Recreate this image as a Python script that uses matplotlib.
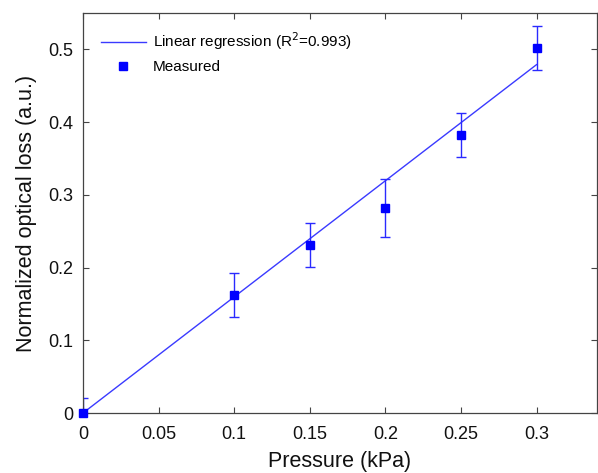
import matplotlib
matplotlib.use("Agg")
import matplotlib.pyplot as plt

plt.rcParams['font.family'] = ['Liberation Sans', 'DejaVu Sans']

pressure = [0.0, 0.1, 0.15, 0.2, 0.25, 0.3]
loss = [0.0, 0.162, 0.231, 0.282, 0.382, 0.502]
loss_err = [0.02, 0.03, 0.03, 0.04, 0.03, 0.03]
fit_x = [0.0, 0.3]
fit_y = [0.0, 0.479]
xticks = [0, 0.05, 0.1, 0.15, 0.2, 0.25, 0.3]
xticklabels = ['0', '0.05', '0.1', '0.15', '0.2', '0.25', '0.3']
yticks = [0, 0.1, 0.2, 0.3, 0.4, 0.5]
yticklabels = ['0', '0.1', '0.2', '0.3', '0.4', '0.5']

fig = plt.figure(figsize=(5.98, 4.73), dpi=100)
ax = fig.add_axes([0.1388, 0.1268, 0.8595, 0.8457])

ax.plot(fit_x, fit_y, color='#3a3aff', lw=1.0, label='Linear regression (R$^2$=0.993)')
ax.errorbar(pressure, loss, yerr=loss_err, fmt='none', ecolor='#2a2aff', elinewidth=1.0,
            capsize=3.5, capthick=1.0, clip_on=True)
ax.plot(pressure, loss, 's', color='#0000ff', markersize=6, label='Measured', ls='none', clip_on=False, zorder=5)

ax.set_xlim(0, 0.34)
ax.set_ylim(0, 0.55)
ax.set_xticks(xticks)
ax.set_xticklabels(xticklabels)
ax.set_yticks(yticks)
ax.set_yticklabels(yticklabels)
ax.tick_params(direction='in', top=True, right=True, length=4, width=0.8, color='#444444',
               labelsize=13, labelcolor='#111111')
ax.tick_params(axis='x', pad=9)
ax.tick_params(axis='y', pad=7)
for s in ax.spines.values():
    s.set_color('#444444')
    s.set_linewidth(0.9)

ax.set_xlabel('Pressure (kPa)', fontsize=15.5, color='#111111', labelpad=6)
ax.set_ylabel('Normalized optical loss (a.u.)', fontsize=15.5, color='#111111', labelpad=8)

leg = ax.legend(loc='upper left', frameon=False, fontsize=11, handlelength=3.0,
                handletextpad=0.4, borderaxespad=0.75, labelspacing=0.5)

fig.savefig('out.png', dpi=100)
